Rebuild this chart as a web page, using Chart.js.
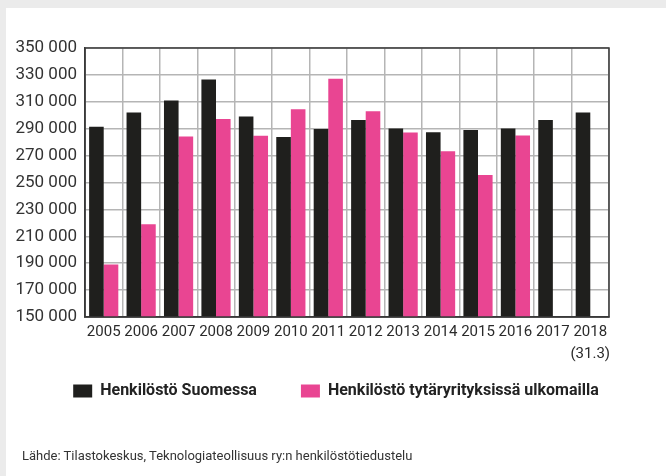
<!DOCTYPE html>
<html>
<head>
<meta charset="utf-8">
<script src="https://cdn.jsdelivr.net/npm/chart.js@4"></script>
<style>
  html, body { margin: 0; padding: 0; }
  body { width: 666px; height: 476px; background: #ebebeb; position: relative; overflow: hidden; }
  #panel { position: absolute; left: 6px; top: 8px; width: 660px; height: 468px; background: #ffffff; }
  #wrap { position: absolute; left: 0; top: 0; width: 660px; height: 468px; }
  #source { position: absolute; left: 16px; top: 440px; font-family: Roboto, sans-serif; font-size: 13px; color: #333; white-space: nowrap; }
</style>
</head>
<body>
<div id="panel">
  <div id="wrap"><canvas id="c" width="660" height="468"></canvas></div>
  <div id="source">Lähde: Tilastokeskus, Teknologiateollisuus ry:n henkilöstötiedustelu</div>
</div>
<script>
const years = ['2005','2006','2007','2008','2009','2010','2011','2012','2013','2014','2015','2016','2017',['2018','(31.3)']];
const staffFinland = [291500, 302000, 311000, 326500, 299000, 283800, 289800, 296500, 290200, 287400, 289000, 290200, 296400, 302000];
const staffAbroad  = [189000, 219000, 284200, 297300, 284700, 304500, 327200, 302900, 287200, 273200, 255500, 284900, null, null];
const seriesNames = ['Henkilöstö Suomessa', 'Henkilöstö tytäryrityksissä ulkomailla'];
const yMin = 150000, yMax = 350000, yStep = 20000;

const framePlugin = {
  id: 'frame',
  afterDatasetsDraw(chart) {
    const a = chart.chartArea, ctx = chart.ctx;
    ctx.save();
    ctx.strokeStyle = '#3a3a3a';
    ctx.lineWidth = 1.5;
    ctx.strokeRect(a.left, a.top, a.right - a.left, a.bottom - a.top);
    ctx.restore();
  }
};

// pull the legend up closer to the axis labels while keeping wide item spacing
const legendShift = {
  id: 'legendShift',
  afterLayout(chart) {
    const lg = chart.legend;
    if (lg) { lg.top -= 26; lg.bottom -= 26; }
  }
};

new Chart(document.getElementById('c'), {
  type: 'bar',
  data: {
    labels: years,
    datasets: [
      { label: seriesNames[0], data: staffFinland, backgroundColor: '#1f1f1d', yAxisID: 'y' },
      { label: seriesNames[1], data: staffAbroad, backgroundColor: '#e94592', yAxisID: 'y' }
    ]
  },
  options: {
    responsive: false,
    animation: false,
    devicePixelRatio: 1,
    categoryPercentage: 0.78,
    barPercentage: 1.0,
    layout: { padding: { left: 9, right: 9, top: 40, bottom: 41 } },
    plugins: {
      legend: {
        position: 'bottom',
        labels: {
          boxWidth: 19,
          boxHeight: 13,
          padding: 44,
          color: '#222',
          font: { family: 'Roboto, sans-serif', size: 16, weight: 'bold' }
        }
      },
      tooltip: { enabled: false }
    },
    scales: {
      x: {
        afterFit(scale) { scale.height = 48; },
        grid: { color: '#b5b5b5', lineWidth: 1.5, drawTicks: false },
        border: { color: '#3a3a3a', width: 1.5 },
        ticks: {
          color: '#2b2b2b',
          padding: 4,
          maxRotation: 0,
          autoSkip: false,
          font: { family: 'Roboto, sans-serif', size: 15, lineHeight: 1.467 }
        }
      },
      y: {
        min: yMin,
        max: yMax,
        afterFit(scale) { scale.width = 70; },
        grid: { color: '#b5b5b5', lineWidth: 1.5, drawTicks: false },
        border: { color: '#3a3a3a', width: 1.5 },
        ticks: {
          stepSize: yStep,
          padding: 8,
          color: '#333',
          font: { family: 'Roboto, sans-serif', size: 17 },
          callback: (v) => String(v).replace(/\B(?=(\d{3})+(?!\d))/g, ' ')
        }
      },
      yRight: {
        position: 'right',
        afterFit(scale) { scale.width = 48; },
        grid: { display: false, drawTicks: false },
        border: { display: false },
        ticks: { display: false }
      }
    }
  },
  plugins: [framePlugin, legendShift]
});
</script>
</body>
</html>
